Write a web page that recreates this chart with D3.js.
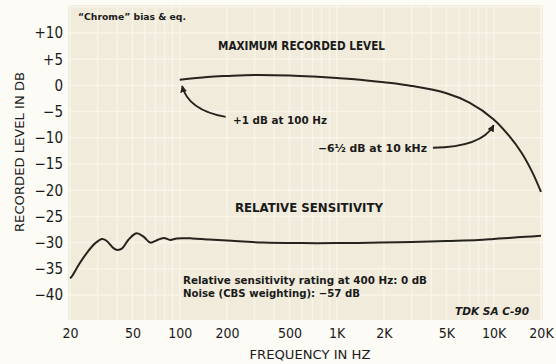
<!DOCTYPE html>
<html>
<head>
<meta charset="utf-8">
<script src="https://cdn.jsdelivr.net/npm/d3@7"></script>
<style>
html,body{margin:0;padding:0;background:#fcfbf5;}
svg{display:block;}
</style>
</head>
<body>
<svg id="chart" width="556" height="364"></svg>
<script>
// ---- data ----
const xTickValues = [20, 50, 100, 200, 500, 1000, 2000, 5000, 10000, 20000];
const xTickLabels = ["20", "50", "100", "200", "500", "1K", "2K", "5K", "10K", "20K"];
const yTickValues = [10, 5, 0, -5, -10, -15, -20, -25, -30, -35, -40];
const yTickLabels = ["+10", "+5", "0", "\u22125", "\u221210", "\u221215", "\u221220", "\u221225", "\u221230", "\u221235", "\u221240"];

const maxFreq  = [100, 150, 200, 300, 500, 700, 1000, 1500, 2000, 3000, 5000, 7000, 10000, 12500, 15000, 17500, 20000];
const maxLevel = [1.1, 1.6, 1.8, 2.0, 1.9, 1.7, 1.4, 1.0, 0.6, -0.1, -1.5, -3.3, -6.5, -9.6, -12.8, -16.4, -20.3];

const sensFreq  = [20, 20.5, 23, 26, 29, 32, 34, 38, 40, 43, 47, 53, 59, 65, 71, 79, 87, 96, 120, 150, 200, 340, 600, 1000, 1900, 3000, 5000, 8000, 10000, 12500, 16000, 20000];
const sensLevel = [-36.8, -36.5, -34, -31.7, -30.1, -29.3, -29.6, -31.1, -31.4, -31.1, -29.5, -28.2, -28.9, -30.0, -29.6, -29.1, -29.5, -29.2, -29.2, -29.4, -29.6, -30.0, -30.1, -30.1, -30.0, -29.9, -29.7, -29.5, -29.3, -29.1, -28.9, -28.7];

// annotation arrows in data units: tail, control, head  [freq, dB]
const arrow100Hz = [[196, -6.0], [113, -4.7], [103.6, -0.1]];
const arrow10kHz = [[4100, -11.9], [8380, -11.75], [10000, -7.6]];

// ---- layout ----
const svg = d3.select("#chart");
const FONT = "'DejaVu Sans Condensed', 'DejaVu Sans', sans-serif";
const x = d3.scaleLog().domain([20, 20000]).range([70, 541]);
const y = d3.scaleLinear().domain([10, -40]).range([33, 295]);

// plot background
svg.append("rect").attr("x", 68).attr("y", 5).attr("width", 475).attr("height", 315)
  .attr("fill", "#f0ebda");

// faint lighter grid (graph paper)
const gridF = [];
[10, 100, 1000, 10000].forEach(d => { for (let k = 1; k < 10; k++) { const v = d * k; if (v >= 20 && v <= 20000) gridF.push(v); } });
gridF.push(20000);
const gridG = svg.append("g").attr("stroke", "#f7f4ea").attr("stroke-width", 1.5);
gridG.selectAll("line.v").data(gridF).join("line").attr("class", "v")
  .attr("x1", d => x(d)).attr("x2", d => x(d)).attr("y1", 5).attr("y2", 320);
gridG.selectAll("line.h").data(d3.range(15, -45, -5)).join("line").attr("class", "h")
  .attr("y1", d => y(d)).attr("y2", d => y(d)).attr("x1", 68).attr("x2", 543);

// axes (labels only)
const xAxis = d3.axisBottom(x).tickValues(xTickValues).tickFormat((d, i) => xTickLabels[i]).tickSize(0).tickPadding(0);
const gx = svg.append("g").attr("transform", "translate(0,328)").call(xAxis);
gx.select(".domain").remove();
gx.selectAll("text").attr("font-family", FONT).attr("font-size", 14).attr("fill", "#1a1a1a").attr("dy", "0.71em");

const yAxis = d3.axisLeft(y).tickValues(yTickValues).tickFormat((d, i) => yTickLabels[i]).tickSize(0).tickPadding(0);
const gy = svg.append("g").attr("transform", "translate(63,0)").call(yAxis);
gy.select(".domain").remove();
gy.selectAll("text").attr("font-family", FONT).attr("font-size", 15).attr("fill", "#1a1a1a");

// axis titles
svg.append("text").attr("x", 310).attr("y", 359).attr("text-anchor", "middle")
  .attr("font-family", FONT).attr("font-size", 12).attr("fill", "#1a1a1a")
  .attr("textLength", 121).attr("lengthAdjust", "spacingAndGlyphs")
  .text("FREQUENCY IN HZ");
svg.append("text").attr("transform", "translate(24,152) rotate(-90)").attr("text-anchor", "middle")
  .attr("font-family", FONT).attr("font-size", 13).attr("fill", "#1a1a1a")
  .attr("textLength", 160).attr("lengthAdjust", "spacingAndGlyphs")
  .text("RECORDED LEVEL IN DB");

// curves
const line = d3.line().x(d => x(d[0])).y(d => y(d[1])).curve(d3.curveCatmullRom.alpha(0.5));
svg.append("path").datum(maxFreq.map((f, i) => [f, maxLevel[i]]))
  .attr("d", line).attr("fill", "none").attr("stroke", "#26231d").attr("stroke-width", 2);
svg.append("path").datum(sensFreq.map((f, i) => [f, sensLevel[i]]))
  .attr("d", line).attr("fill", "none").attr("stroke", "#26231d").attr("stroke-width", 2);

// arrows
svg.append("defs").append("marker").attr("id", "ah").attr("viewBox", "0 0 10 10")
  .attr("refX", 9).attr("refY", 5).attr("markerWidth", 7).attr("markerHeight", 7)
  .attr("markerUnits", "userSpaceOnUse").attr("orient", "auto")
  .append("path").attr("d", "M0,0 L10,5 L0,10 Z").attr("fill", "#26231d");
function arrowPath(a) {
  const p = a.map(d => [x(d[0]), y(d[1])]);
  return `M${p[0][0]},${p[0][1]} Q${p[1][0]},${p[1][1]} ${p[2][0]},${p[2][1]}`;
}
[arrow100Hz, arrow10kHz].forEach(a => {
  svg.append("path").attr("d", arrowPath(a)).attr("fill", "none")
    .attr("stroke", "#26231d").attr("stroke-width", 1.8).attr("marker-end", "url(#ah)");
});

// labels
function label(txt, x0, yb, size, len, opts = {}) {
  const t = svg.append("text").attr("x", x0).attr("y", yb)
    .attr("font-family", FONT).attr("font-size", size)
    .attr("font-weight", opts.weight || "bold").attr("fill", "#1a1a1a")
    .attr("textLength", len).attr("lengthAdjust", "spacingAndGlyphs").text(txt);
  if (opts.italic) t.attr("font-style", "italic");
  return t;
}
label("\u201CChrome\u201D bias & eq.", 78, 20, 9.5, 108, {weight: "bold"});
label("MAXIMUM RECORDED LEVEL", 218, 50, 13, 167);
label("+1 dB at 100 Hz", 233, 124, 10.5, 94);
label("\u22126\u00BD dB at 10 kHz", 318, 152, 10.5, 109);
label("RELATIVE SENSITIVITY", 235, 212, 13, 148);
label("Relative sensitivity rating at 400 Hz: 0 dB", 183, 284, 10, 244);
label("Noise (CBS weighting): \u221257 dB", 183, 297, 10, 177);
label("TDK SA C-90", 455, 315, 10, 74, {italic: true});
</script>
</body>
</html>
